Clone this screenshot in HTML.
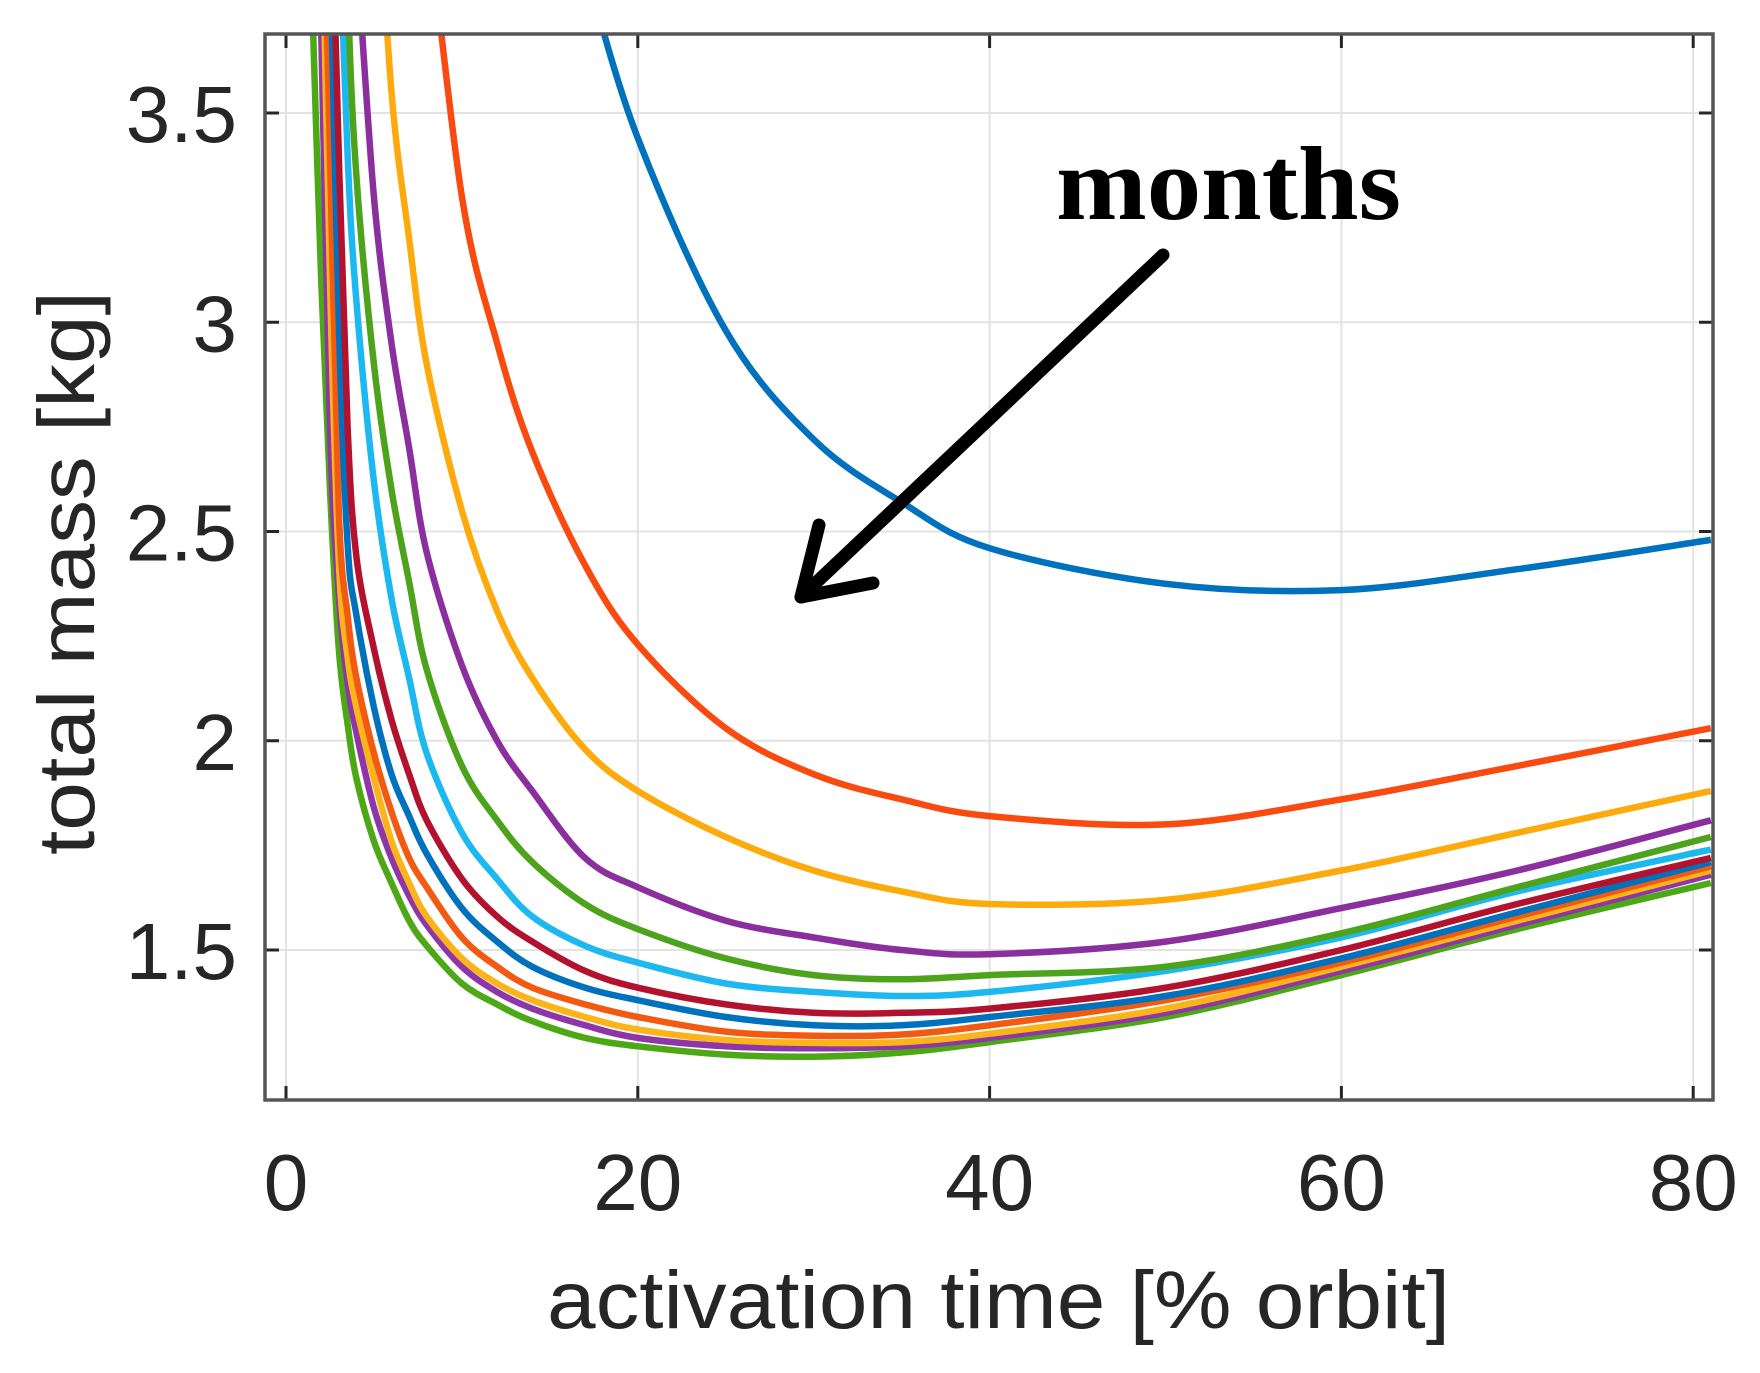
<!DOCTYPE html>
<html><head><meta charset="utf-8"><style>
html,body{margin:0;padding:0;background:#fff;}
svg{display:block;}
</style></head><body>
<svg id="chart" width="1760" height="1373" viewBox="0 0 1760 1373" xmlns="http://www.w3.org/2000/svg">
<defs><clipPath id="plotclip"><rect x="265" y="34" width="1448" height="1066"/></clipPath></defs>
<rect x="265" y="34" width="1448" height="1066" fill="#fff"/>
<g id="grid"></g>
<g id="series" clip-path="url(#plotclip)"></g>
<g id="axes"></g>
<text x="547" y="1328" font-family="Liberation Sans, sans-serif" font-size="82" fill="#262626" textLength="903" lengthAdjust="spacingAndGlyphs">activation time [% orbit]</text>
<text transform="translate(94,573) rotate(-90)" text-anchor="middle" font-family="Liberation Sans, sans-serif" font-size="80" fill="#262626" textLength="564" lengthAdjust="spacingAndGlyphs">total mass [kg]</text>
<text x="1056" y="219" font-family="Liberation Serif, serif" font-weight="bold" font-size="105" fill="#000" textLength="345" lengthAdjust="spacingAndGlyphs">months</text>
<g stroke="#000" stroke-width="13" stroke-linecap="round" fill="none">
<line x1="1163" y1="255" x2="803" y2="595"/>
<line x1="801" y1="597" x2="819" y2="525"/>
<line x1="801" y1="597" x2="873" y2="583"/>
</g>
</svg>
<script>
const xTicks=[0,20,40,60,80];
const yTicks=[1.5,2,2.5,3,3.5];
const xTickLabels=["0","20","40","60","80"];
const yTickLabels=["1.5","2","2.5","3","3.5"];
const xs=[1.5,2,2.5,3,3.5,4,5,6,7,8,10,12,14,17,20,25,30,35,40,50,60,70,81];
const s1=[null,null,null,null,null,null,null,null,null,null,null,null,null,3.85,3.44,2.98,2.72,2.57,2.46,2.375,2.36,2.41,2.48];
const s2=[null,null,null,null,null,null,null,null,null,4.0,3.3,2.95,2.69,2.42,2.23,2.03,1.92,1.86,1.82,1.80,1.86,1.94,2.03];
const s3=[null,null,null,null,null,null,4.2,3.55,3.2,2.9,2.55,2.31,2.15,1.98,1.88,1.77,1.69,1.64,1.61,1.62,1.69,1.78,1.88];
const s4=[null,null,null,null,null,3.9,3.3,2.95,2.7,2.45,2.18,2.0,1.88,1.72,1.65,1.57,1.53,1.50,1.49,1.52,1.60,1.69,1.81];
const s5=[null,null,null,4.6,3.8,3.35,2.9,2.6,2.38,2.17,1.94,1.81,1.71,1.61,1.55,1.48,1.44,1.43,1.44,1.46,1.54,1.65,1.77];
const s6=[null,null,null,4.0,3.4,3.05,2.62,2.34,2.15,1.97,1.78,1.67,1.58,1.51,1.47,1.42,1.40,1.39,1.40,1.45,1.53,1.64,1.74];
const s7=[null,null,4.2,3.4,2.75,2.44,2.22,2.05,1.92,1.81,1.67,1.58,1.52,1.45,1.41,1.37,1.35,1.35,1.36,1.41,1.50,1.61,1.72];
const s8=[null,null,3.9,3.0,2.47,2.3,2.08,1.92,1.82,1.73,1.60,1.52,1.46,1.41,1.38,1.34,1.32,1.32,1.34,1.39,1.48,1.59,1.71];
const s9=[null,4.3,3.4,2.55,2.3,2.15,1.97,1.83,1.72,1.65,1.53,1.46,1.41,1.37,1.34,1.305,1.295,1.298,1.32,1.38,1.47,1.58,1.70];
const s10=[null,4.1,3.1,2.43,2.2,2.08,1.91,1.76,1.66,1.58,1.48,1.42,1.38,1.34,1.31,1.285,1.278,1.28,1.30,1.36,1.46,1.57,1.69];
const s11=[4.5,3.7,2.75,2.35,2.14,2.02,1.84,1.72,1.63,1.56,1.46,1.40,1.36,1.32,1.29,1.27,1.265,1.27,1.29,1.35,1.45,1.56,1.68];
const s12=[3.75,3.1,2.6,2.22,2.04,1.91,1.76,1.66,1.57,1.51,1.42,1.37,1.33,1.29,1.27,1.25,1.245,1.255,1.28,1.34,1.44,1.55,1.66];
const seriesList=[s1,s2,s3,s4,s5,s6,s7,s8,s9,s10,s11,s12];
const colors=["#0072BD","#F94A0F","#FDAA0C","#8B2F9E","#4DA41C","#1EB8F0","#B2122E","#0072BD","#F25A12","#FDB41A","#8E35A8","#4DA816"];
const NS="http://www.w3.org/2000/svg";
function X(v){return 286+v*17.59;}
function Y(v){return 950-(v-1.5)*418.5;}
const grid=document.getElementById('grid'),axes=document.getElementById('axes'),sg=document.getElementById('series');
function mk(tag,attrs,parent){const e=document.createElementNS(NS,tag);for(const k in attrs)e.setAttribute(k,attrs[k]);parent.appendChild(e);return e;}
xTicks.forEach((t,i)=>{
  const g=mk('line',{x1:X(t),x2:X(t),y1:34,y2:1100,stroke:'#e3e3e3','stroke-width':2},grid);
  
  
  const a=mk('line',{x1:X(t),x2:X(t),y1:1100,y2:1086,stroke:'#262626','stroke-width':3},axes);
  
  
  const b=mk('line',{x1:X(t),x2:X(t),y1:34,y2:48,stroke:'#262626','stroke-width':3},axes);
  
  
  const tx=mk('text',{x:X(t),y:1210,'text-anchor':'middle','font-family':'Liberation Sans, sans-serif','font-size':80,fill:'#262626'},axes);
  tx.textContent=xTickLabels[i];
  
  
});
yTicks.forEach((t,i)=>{
  const g=mk('line',{x1:265,x2:1713,y1:Y(t),y2:Y(t),stroke:'#e3e3e3','stroke-width':2},grid);
  
  
  const a=mk('line',{x1:265,x2:279,y1:Y(t),y2:Y(t),stroke:'#262626','stroke-width':3},axes);
  
  
  const b=mk('line',{x1:1699,x2:1713,y1:Y(t),y2:Y(t),stroke:'#262626','stroke-width':3},axes);
  
  
  const tx=mk('text',{x:237,y:Y(t)+29,'text-anchor':'end','font-family':'Liberation Sans, sans-serif','font-size':80,fill:'#262626'},axes);
  tx.textContent=yTickLabels[i];
  
  
});
const frame=mk('rect',{x:265,y:34,width:1448,height:1066,fill:'none',stroke:'#555','stroke-width':3.5},axes);


function pathFor(vals){
  const pts=[];
  vals.forEach((v,i)=>{if(v!==null)pts.push([X(xs[i]),Y(v)]);});
  let d='M'+pts[0][0].toFixed(1)+','+pts[0][1].toFixed(1);
  for(let i=0;i<pts.length-1;i++){
    const p0=pts[Math.max(0,i-1)],p1=pts[i],p2=pts[i+1],p3=pts[Math.min(pts.length-1,i+2)];
    const c1=[p1[0]+(p2[0]-p0[0])/6,p1[1]+(p2[1]-p0[1])/6];
    const c2=[p2[0]-(p3[0]-p1[0])/6,p2[1]-(p3[1]-p1[1])/6];
    d+=' C'+c1[0].toFixed(1)+','+c1[1].toFixed(1)+' '+c2[0].toFixed(1)+','+c2[1].toFixed(1)+' '+p2[0].toFixed(1)+','+p2[1].toFixed(1);
  }
  return d;
}
for(let k=seriesList.length-1;k>=0;k--){
  const p=mk('path',{d:pathFor(seriesList[k]),fill:'none',stroke:colors[k],'stroke-width':6.5,'stroke-linejoin':'round'},sg);
  
  
}
</script>
</body></html>
